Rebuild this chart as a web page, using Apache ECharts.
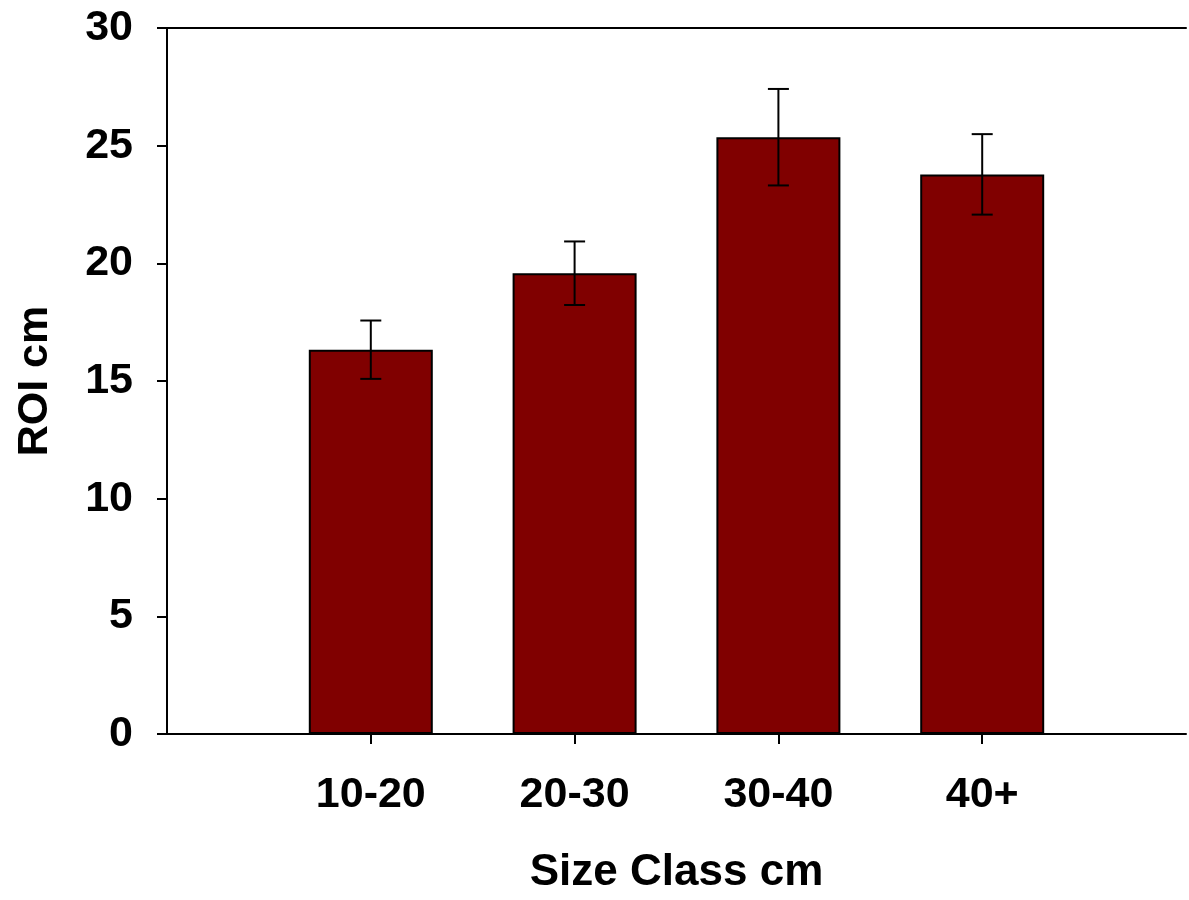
<!DOCTYPE html>
<html>
<head>
<meta charset="utf-8">
<script src="https://cdn.jsdelivr.net/npm/echarts@6/dist/echarts.min.js"></script>
<style>
html,body{margin:0;padding:0;background:#fff;overflow:hidden;}
#chart{width:1189px;height:900px;}
</style>
</head>
<body>
<div id="chart"></div>
<script>
const categories = ['10-20', '20-30', '30-40', '40+'];
const roiMeans = [16.33, 19.58, 25.36, 23.78];
const roiErrors = [1.24, 1.35, 2.05, 1.71];
const yTicks = [0, 5, 10, 15, 20, 25, 30];

// padded axis so each category sits on a slot boundary like the original
const axisCats = [''].concat(categories, ['']);
const barData = axisCats.map(c => {
  const i = categories.indexOf(c);
  return i >= 0 ? roiMeans[i] : '-';
});
const errData = categories.map((c, i) => [c, roiMeans[i] - roiErrors[i], roiMeans[i] + roiErrors[i]]);

const font = 'Liberation Sans, Arial, Helvetica, sans-serif';
const chart = echarts.init(document.getElementById('chart'));
chart.setOption({
  animation: false,
  backgroundColor: '#fff',
  grid: { left: 167, top: 28, width: 1029, height: 714 },
  xAxis: [{
    type: 'category',
    data: axisCats,
    boundaryGap: false,
    name: 'Size Class cm',
    nameLocation: 'middle',
    nameGap: 117,
    nameTextStyle: { fontFamily: font, fontWeight: 'bold', fontSize: 44, color: '#000' },
    axisLine: { show: true, lineStyle: { color: '#000', width: 2 } },
    axisTick: { show: true, inside: false, length: 10, lineStyle: { color: '#000', width: 2 },
      interval: (idx, val) => val !== '' },
    axisLabel: { show: true, margin: 40, fontFamily: font, fontWeight: 'bold', fontSize: 43, color: '#000',
      interval: 0 },
    splitLine: { show: false }
  }, {
    type: 'category',
    data: axisCats,
    boundaryGap: false,
    position: 'top',
    axisLine: { show: true, lineStyle: { color: '#000', width: 2 } },
    axisTick: { show: false },
    axisLabel: { show: false },
    splitLine: { show: false }
  }],
  yAxis: {
    type: 'value',
    min: yTicks[0],
    max: yTicks[yTicks.length - 1],
    interval: 5,
    name: 'ROI cm',
    nameLocation: 'middle',
    nameRotate: 90,
    nameGap: 110,
    nameTextStyle: { fontFamily: font, fontWeight: 'bold', fontSize: 43, color: '#000' },
    axisLine: { show: true, lineStyle: { color: '#000', width: 2 } },
    axisTick: { show: true, inside: false, length: 10, lineStyle: { color: '#000', width: 2 } },
    axisLabel: { margin: 34, fontFamily: font, fontWeight: 'bold', fontSize: 43, color: '#000' },
    splitLine: { show: false }
  },
  series: [{
    type: 'bar',
    data: barData,
    barWidth: 124,
    itemStyle: { color: '#800000', borderColor: '#000', borderWidth: 2 },
    z: 2
  }, {
    type: 'custom',
    data: errData,
    encode: { x: 0, y: [1, 2] },
    z: 5,
    renderItem: function (params, api) {
      const x = api.value(0);
      const lo = api.coord([x, api.value(1)]);
      const hi = api.coord([x, api.value(2)]);
      const hw = 10.5;
      const style = { stroke: '#000', lineWidth: 2, fill: null };
      return {
        type: 'group',
        children: [
          { type: 'line', shape: { x1: hi[0], y1: hi[1], x2: lo[0], y2: lo[1] }, style: style },
          { type: 'line', shape: { x1: hi[0] - hw, y1: hi[1], x2: hi[0] + hw, y2: hi[1] }, style: style },
          { type: 'line', shape: { x1: lo[0] - hw, y1: lo[1], x2: lo[0] + hw, y2: lo[1] }, style: style }
        ]
      };
    }
  }]
});
</script>
</body>
</html>
